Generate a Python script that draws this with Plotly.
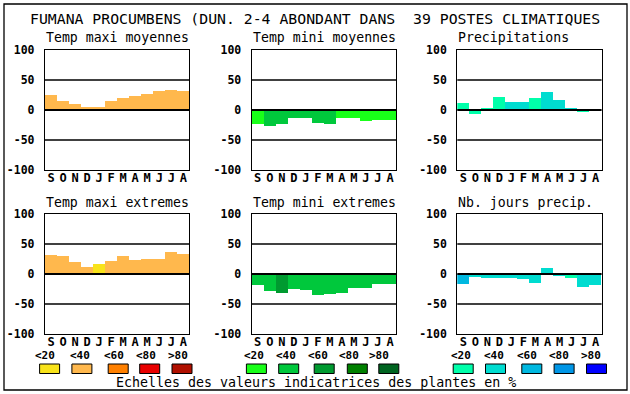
import plotly.graph_objects as go

W, H = 630, 394

# ---------------- data ----------------
months = ["S", "O", "N", "D", "J", "F", "M", "A", "M", "J", "J", "A"]
y_ticks = [100, 50, 0, -50, -100]
legend_labels = ["<20", "<40", "<60", "<80", ">80"]

chart_title = "FUMANA PROCUMBENS (DUN. 2-4 ABONDANT DANS  39 POSTES CLIMATIQUES"
panel_titles = ["Temp maxi moyennes", "Temp mini moyennes", "Precipitations",
                "Temp maxi extremes", "Temp mini extremes", "Nb. jours precip."]
scale_caption = "Echelles des valeurs indicatrices des plantes en %"

tmax_moy = [25, 15, 10, 5, 5, 15, 20, 24, 27, 32, 33, 32]
tmax_moy_cls = [1, 1, 1, 1, 1, 1, 1, 1, 1, 1, 1, 1]
tmin_moy = [-24, -26, -23, -13, -13, -22, -23, -14, -14, -18, -16, -16]
tmin_moy_cls = [0, 1, 1, 1, 1, 1, 1, 0, 0, 0, 0, 0]
precip = [12, -6, 2, 22, 13, 13, 20, 30, 17, 3, -4, 0]
precip_cls = [0, 0, 0, 0, 1, 1, 0, 1, 1, 1, 0, 0]
tmax_ext = [32, 30, 20, 12, 17, 22, 30, 23, 25, 25, 37, 33]
tmax_ext_cls = [1, 1, 1, 1, 0, 1, 1, 1, 1, 1, 1, 1]
tmin_ext = [-18, -28, -32, -25, -27, -35, -33, -32, -23, -23, -17, -17]
tmin_ext_cls = [1, 1, 2, 1, 1, 1, 1, 1, 1, 1, 1, 1]
nb_jours = [-17, -5, -7, -7, -7, -8, -15, 10, -3, -7, -22, -18]
nb_jours_cls = [2, 1, 1, 1, 1, 1, 1, 1, 1, 0, 1, 1]

# ---------------- styles ----------------
orange_scale = ["#F8E31A", "#FFB84D", "#FF8000", "#E80000", "#B01000"]
green_scale = ["#19FF19", "#00C83C", "#009A30", "#008000", "#006420"]
blue_scale = ["#00FFAA", "#00DCD0", "#00B8E0", "#0096E6", "#0000FF"]

MONO = "DejaVu Sans Mono"

panels = [
    (tmax_moy, tmax_moy_cls, orange_scale),
    (tmin_moy, tmin_moy_cls, green_scale),
    (precip, precip_cls, blue_scale),
    (tmax_ext, tmax_ext_cls, orange_scale),
    (tmin_ext, tmin_ext_cls, green_scale),
    (nb_jours, nb_jours_cls, blue_scale),
]

col_x = [45.0, 251.7, 457.3]
col_w = 144.3
row_y = [50.0, 214.0]
row_h = 120.0

fig = go.Figure()
layout = dict(
    template="none",
    width=W, height=H, autosize=False,
    margin=dict(l=0, r=0, t=0, b=0, pad=0),
    paper_bgcolor="white", plot_bgcolor="white",
    showlegend=False, bargap=0,
)
shapes = []
annotations = []

idx = list(range(12))
for i, (vals, cls, scale) in enumerate(panels):
    r, c = divmod(i, 3)
    n = "" if i == 0 else str(i + 1)
    x0 = col_x[c]
    y0 = row_y[r]
    fig.add_trace(go.Bar(
        x=idx, y=vals, width=1,
        marker=dict(color=[scale[k] for k in cls], line=dict(width=0)),
        xaxis="x" + n, yaxis="y" + n, hoverinfo="skip",
    ))
    layout["xaxis" + n] = dict(
        domain=[x0 / W, (x0 + col_w) / W], anchor="y" + n,
        range=[-0.5, 11.5], tickvals=idx, ticktext=months,
        showgrid=False, zeroline=False, showline=True, mirror=True,
        linecolor="black", linewidth=1.3, ticks="", automargin=False,
        tickfont=dict(family=MONO, size=12, color="black", weight="bold"),
        ticklabelstandoff=-4, fixedrange=True,
    )
    layout["yaxis" + n] = dict(
        domain=[1 - (y0 + row_h) / H, 1 - y0 / H], anchor="x" + n,
        range=[-100, 100], tickvals=y_ticks, ticktext=[str(v) for v in y_ticks],
        showgrid=False, zeroline=False, showline=True, mirror=True,
        linecolor="black", linewidth=1.3, ticks="", automargin=False,
        tickfont=dict(family=MONO, size=11.5, color="black", weight="bold"),
        ticklabelstandoff=7, fixedrange=True,
    )
    for gv, lw in [(50, 1.6), (0, 2.0), (-50, 1.6)]:
        shapes.append(dict(type="line", xref="x" + n + " domain", yref="y" + n,
                           x0=0, x1=1, y0=gv, y1=gv,
                           line=dict(color="black", width=lw), layer="above"))
    annotations.append(dict(
        text=panel_titles[i], xref="paper", yref="paper",
        x=(x0 - 1) / W, y=1 - (y0 - 12) / H, xanchor="left", yanchor="middle",
        showarrow=False, font=dict(family=MONO, size=13.2, color="black"),
    ))

# main title
annotations.append(dict(
    text=chart_title, xref="paper", yref="paper", x=315 / W, y=1 - 18 / H,
    xanchor="center", yanchor="middle", showarrow=False,
    font=dict(family=MONO, size=14.8, color="black"),
))

# outer frame
shapes.append(dict(type="rect", xref="paper", yref="paper",
                   x0=4 / W, x1=627 / W, y0=1 - 390 / H, y1=1 - 4 / H,
                   line=dict(color="black", width=1.3), layer="above"))

# legend scales
box_x = [
    [39.6, 71.9, 108.2, 139.7, 172.0],
    [246.4, 278.7, 314.2, 347.3, 378.8],
    [453.2, 485.5, 521.8, 554.1, 586.5],
]
label_x = [
    [45, 80, 114, 146, 178],
    [254, 286, 318, 349, 379],
    [461, 494, 527, 559, 591],
]
for g, scale in enumerate([orange_scale, green_scale, blue_scale]):
    for k in range(5):
        bx = box_x[g][k]
        shapes.append(dict(type="rect", xref="paper", yref="paper",
                           x0=bx / W, x1=(bx + 20) / W,
                           y0=1 - 373.5 / H, y1=1 - 364 / H,
                           fillcolor=scale[k], line=dict(color="black", width=1)))
        annotations.append(dict(
            text=legend_labels[k], xref="paper", yref="paper",
            x=label_x[g][k] / W, y=1 - 355 / H, xanchor="center", yanchor="middle",
            showarrow=False,
            font=dict(family=MONO, size=11, color="black", weight="bold"),
        ))

annotations.append(dict(
    text=scale_caption, xref="paper", yref="paper", x=316 / W, y=1 - 382 / H,
    xanchor="center", yanchor="middle", showarrow=False,
    font=dict(family=MONO, size=13.3, color="black"),
))

layout["shapes"] = shapes
layout["annotations"] = annotations
fig.update_layout(**layout)
fig.write_html(
    "out.html",
    config={"displayModeBar": False},
    post_script="document.body.style.margin='0';document.body.style.overflow='hidden';",
)
